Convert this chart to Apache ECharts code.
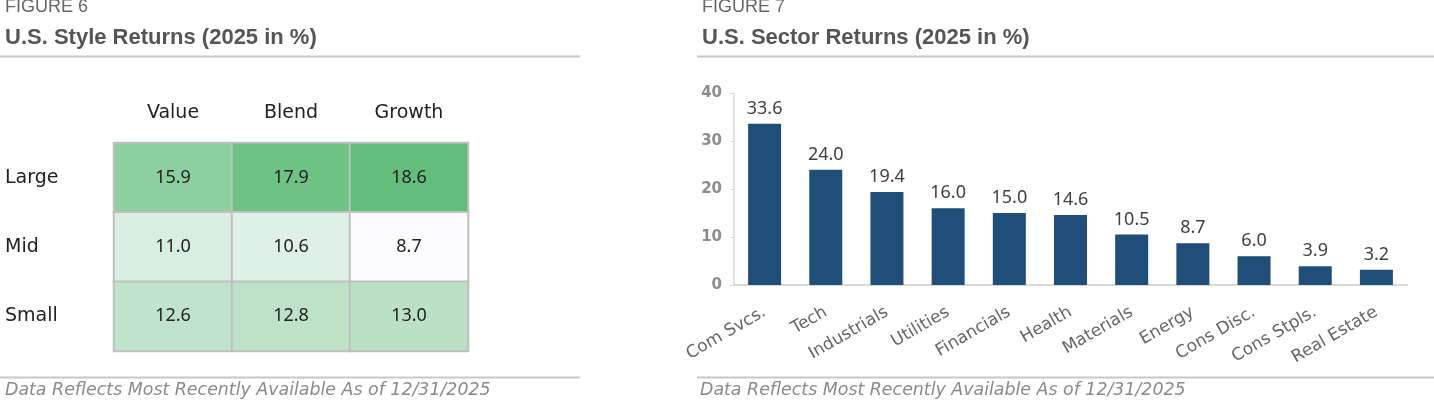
<!DOCTYPE html>
<html>
<head>
<meta charset="utf-8">
<script src="https://cdn.jsdelivr.net/npm/echarts@6/dist/echarts.min.js"></script>
<style>
html,body{margin:0;padding:0;background:#fff;}
#c{width:1434px;height:401px;}
</style>
</head>
<body>
<div id="c"></div>
<script>
// ---- Figure 6 data ----
const styleCols = ['Value', 'Blend', 'Growth'];
const styleRows = ['Large', 'Mid', 'Small'];
const largeVals = [15.9, 17.9, 18.6];
const midVals = [11.0, 10.6, 8.7];
const smallVals = [12.6, 12.8, 13.0];

// ---- Figure 7 data ----
const sectors = ['Com Svcs.', 'Tech', 'Industrials', 'Utilities', 'Financials', 'Health', 'Materials', 'Energy', 'Cons Disc.', 'Cons Stpls.', 'Real Estate'];
const sectorVals = [33.6, 24.0, 19.4, 16.0, 15.0, 14.6, 10.5, 8.7, 6.0, 3.9, 3.2];
const yTicks = [0, 10, 20, 30, 40];

const rowsVals = [largeVals, midVals, smallVals];
const heatData = [];
rowsVals.forEach((row, r) => row.forEach((v, c) => heatData.push([c, r, v])));

const numFont = '"Noto Sans", "Open Sans", sans-serif';
const wideFont = '"DejaVu Sans", "Noto Sans", sans-serif';
const gray = '#c8c8c8';

const chart = echarts.init(document.getElementById('c'), null, {renderer: 'canvas'});
chart.setOption({
  animation: false,
  backgroundColor: '#fff',
  grid: [
    {left: 114, top: 143, width: 354, height: 208},
    {left: 734, top: 93, width: 673, height: 192}
  ],
  visualMap: {
    show: false,
    seriesIndex: 0,
    min: Math.min(...heatData.map(d => d[2])),
    max: Math.max(...heatData.map(d => d[2])),
    inRange: {color: ['#FCFCFF', '#63BE7B']}
  },
  xAxis: [
    {
      gridIndex: 0, type: 'category', data: styleCols, position: 'top',
      axisLine: {show: false}, axisTick: {show: false}, splitLine: {show: false},
      axisLabel: {fontFamily: wideFont, fontSize: 19, color: '#222', margin: 20}
    },
    {
      gridIndex: 1, type: 'category', data: sectors,
      axisLine: {lineStyle: {color: '#d9d9d9', width: 2}}, axisTick: {show: false},
      axisLabel: {interval: 0, rotate: 30, fontFamily: wideFont, fontSize: 17, color: '#666', margin: 26}
    }
  ],
  yAxis: [
    {
      gridIndex: 0, type: 'category', data: styleRows, inverse: true,
      axisLine: {show: false}, axisTick: {show: false}, splitLine: {show: false},
      axisLabel: {fontFamily: wideFont, fontSize: 19, color: '#222', align: 'left', margin: 109}
    },
    {
      gridIndex: 1, type: 'value', min: yTicks[0], max: yTicks[yTicks.length - 1], interval: 10,
      axisLine: {show: true, lineStyle: {color: '#d9d9d9', width: 1.5}},
      axisTick: {show: true, length: 4, lineStyle: {color: '#d9d9d9'}},
      splitLine: {show: false},
      axisLabel: {fontFamily: wideFont, fontSize: 15, fontWeight: 'bold', color: '#8c8c8c', margin: 12}
    }
  ],
  series: [
    {
      type: 'heatmap', xAxisIndex: 0, yAxisIndex: 0, data: heatData,
      itemStyle: {borderColor: '#bfbfbf', borderWidth: 2},
      label: {show: true, fontFamily: numFont, fontSize: 18, color: '#222',
        formatter: p => p.value[2].toFixed(1)}
    },
    {
      type: 'bar', xAxisIndex: 1, yAxisIndex: 1, data: sectorVals,
      barWidth: 33,
      itemStyle: {color: '#1F4E79'},
      label: {show: true, position: 'top', distance: 6, fontFamily: numFont, fontSize: 18, color: '#404040',
        formatter: p => p.value.toFixed(1)}
    }
  ],
  graphic: [
    {type: 'text', x: 5, y: 16, style: {text: 'FIGURE 6', font: '18px "Liberation Sans", Arial, sans-serif', fill: '#666', verticalAlign: 'bottom'}},
    {type: 'text', x: 5, y: 49, style: {text: 'U.S. Style Returns (2025 in %)', font: 'bold 22px "Liberation Sans", Arial, sans-serif', fill: '#555', verticalAlign: 'bottom'}},
    {type: 'line', shape: {x1: 0, y1: 56.5, x2: 580, y2: 56.5}, style: {stroke: gray, lineWidth: 2}},
    {type: 'line', shape: {x1: 0, y1: 377.5, x2: 580, y2: 377.5}, style: {stroke: gray, lineWidth: 2}},
    {type: 'text', x: 5, y: 390, style: {text: 'Data Reflects Most Recently Available As of 12/31/2025', font: 'italic 17.4px ' + wideFont, fill: '#8a8a8a', verticalAlign: 'middle'}},

    {type: 'text', x: 702, y: 16, style: {text: 'FIGURE 7', font: '18px "Liberation Sans", Arial, sans-serif', fill: '#666', verticalAlign: 'bottom'}},
    {type: 'text', x: 702, y: 49, style: {text: 'U.S. Sector Returns (2025 in %)', font: 'bold 22px "Liberation Sans", Arial, sans-serif', fill: '#555', verticalAlign: 'bottom'}},
    {type: 'line', shape: {x1: 697, y1: 56.5, x2: 1434, y2: 56.5}, style: {stroke: gray, lineWidth: 2}},
    {type: 'line', shape: {x1: 697, y1: 377.5, x2: 1434, y2: 377.5}, style: {stroke: gray, lineWidth: 2}},
    {type: 'text', x: 700, y: 390, style: {text: 'Data Reflects Most Recently Available As of 12/31/2025', font: 'italic 17.4px ' + wideFont, fill: '#8a8a8a', verticalAlign: 'middle'}}
  ]
});
</script>
</body>
</html>
